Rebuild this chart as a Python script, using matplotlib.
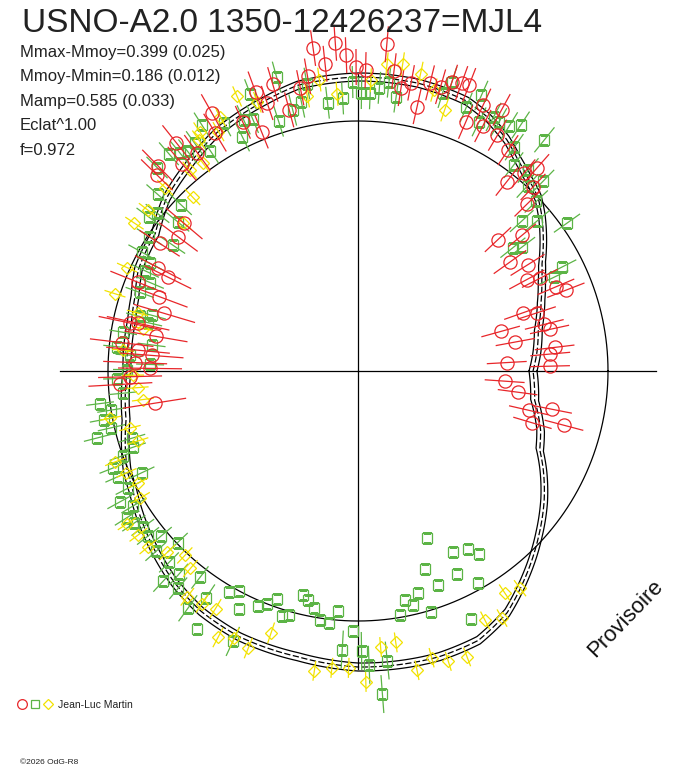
import numpy as np
import matplotlib
matplotlib.use("Agg")
import matplotlib.pyplot as plt
from matplotlib.lines import Line2D
from matplotlib.legend_handler import HandlerTuple

plt.rcParams['font.family'] = ['Liberation Sans', 'DejaVu Sans']

# ---------------- texts ----------------
title = "USNO-A2.0 1350-12426237=MJL4"
stats_lines = ["Mmax-Mmoy=0.399 (0.025)", "Mmoy-Mmin=0.186 (0.012)",
               "Mamp=0.585 (0.033)", "Eclat^1.00", "f=0.972"]
observer = "Jean-Luc Martin"
copyright_text = "\u00a92026 OdG-R8"
stamp = "Provisoire"

# ---------------- polar scale (magnitude offsets, radius grows when brighter) ----------------
center_dm = 1.25     # magnitude offset at the pole
edge_dm = -0.55      # magnitude offset at the outer edge of the polar frame
ref_dm = 0.0         # reference circle
cross_dm = -0.24     # extent of the axis cross
band_dm = 0.02       # half-width of the model envelope

# ---------------- model light curve ----------------
model_phase = [0.0, 0.017, 0.036, 0.058, 0.073, 0.084, 0.098, 0.111, 0.122, 0.135,
               0.147, 0.159, 0.175, 0.189, 0.217, 0.25, 0.283, 0.302, 0.335, 0.361,
               0.383, 0.405, 0.431, 0.449, 0.465, 0.5, 0.533, 0.564, 0.578, 0.608,
               0.636, 0.658, 0.683, 0.717, 0.75, 0.794, 0.817, 0.838, 0.858, 0.883,
               0.903, 0.922, 0.935, 0.95, 0.974, 1.0]
model_dm = [0.375, 0.35, 0.325, 0.27, 0.225, 0.185, 0.115, 0.05, 0.0, -0.035,
            -0.075, -0.125, -0.175, -0.205, -0.22, -0.22, -0.21, -0.18, -0.135, -0.08,
            -0.04, 0.025, 0.04, 0.075, 0.09, 0.095, 0.065, -0.005, -0.025, -0.09,
            -0.15, -0.185, -0.205, -0.21, -0.23, -0.235, -0.225, -0.17, -0.08, 0.03,
            0.115, 0.2, 0.26, 0.29, 0.355, 0.375]

# ---------------- observations: red circles ----------------
red_phase = [0.099, 0.089, 0.079, 0.075, 0.064, 0.059, 0.054, 0.050, 0.043, 0.039,
             0.034, 0.029, 0.019, 0.014, 0.009, 0.004, 0.989, 0.979, 0.964, 0.969,
             0.954, 0.959,
             0.185, 0.180, 0.170, 0.175, 0.165, 0.155, 0.135, 0.139, 0.144, 0.124,
             0.129, 0.120, 0.110,
             0.272, 0.261, 0.256, 0.236, 0.267, 0.251, 0.246, 0.277, 0.296, 0.282,
             0.302, 0.291, 0.231, 0.226, 0.221, 0.215, 0.211, 0.205, 0.200, 0.195,
             0.191, 0.319, 0.311,
             0.306, 0.332, 0.362, 0.357, 0.373, 0.377, 0.351, 0.336, 0.388, 0.398,
             0.409, 0.424, 0.427,
             0.439, 0.443, 0.454, 0.467, 0.466, 0.473, 0.481, 0.485, 0.488, 0.494,
             0.498, 0.504, 0.509, 0.525]
red_dm = [0.315, 0.25, 0.29, 0.23, 0.175, 0.135, 0.375, 0.31, 0.51, 0.29,
          0.27, 0.45, 0.26, 0.285, 0.505, 0.29, 0.515, 0.445, 0.375, 0.26,
          0.34, 0.185,
          -0.105, -0.22, -0.24, -0.125, -0.12, -0.085, -0.105, -0.04, 0.045, 0.06,
          -0.02, 0.29, 0.185,
          -0.38, -0.395, -0.33, -0.39, -0.295, -0.27, -0.255, -0.245, -0.245, -0.195,
          -0.165, -0.1, -0.26, -0.18, -0.215, -0.105, -0.235, -0.23, -0.27, -0.28,
          -0.285, -0.12, -0.04,
          -0.235, -0.23, -0.11, -0.21, -0.185, -0.155, -0.105, -0.14, 0.11, 0.13,
          0.07, 0.125, 0.19,
          0.065, 0.19, 0.24, 0.085, 0.125, 0.225, 0.06, 0.145, 0.215, 0.135,
          0.21, 0.11, 0.06, 0.22]
red_err = [0.10, 0.10, 0.10, 0.10, 0.10, 0.10, 0.10, 0.10, 0.10, 0.10,
           0.10, 0.10, 0.10, 0.10, 0.10, 0.10, 0.10, 0.10, 0.10, 0.10,
           0.10, 0.10,
           0.09, 0.09, 0.09, 0.09, 0.09, 0.09, 0.09, 0.09, 0.09, 0.09,
           0.09, 0.09, 0.09,
           0.09, 0.09, 0.09, 0.09, 0.09, 0.09, 0.09, 0.09, 0.09, 0.09,
           0.09, 0.09, 0.09, 0.09, 0.09, 0.09, 0.09, 0.09, 0.09, 0.09,
           0.09, 0.09, 0.09,
           0.11, 0.11, 0.11, 0.11, 0.11, 0.11, 0.11, 0.11, 0.12, 0.12,
           0.12, 0.13, 0.13,
           0.15, 0.15, 0.16, 0.16, 0.16, 0.16, 0.16, 0.16, 0.16, 0.16,
           0.16, 0.16, 0.16, 0.16]

# ---------------- observations: green squares ----------------
green_phase = [0.183, 0.188, 0.172, 0.168, 0.178, 0.162, 0.157, 0.142, 0.153, 0.147,
               0.138, 0.127, 0.132, 0.121, 0.118, 0.111, 0.098, 0.107, 0.103, 0.075,
               0.071,
               0.293, 0.309, 0.283, 0.268, 0.259, 0.253, 0.248, 0.243, 0.238, 0.233,
               0.228, 0.200, 0.203, 0.299, 0.289, 0.278, 0.318, 0.323,
               0.313, 0.340, 0.329, 0.364, 0.359, 0.355, 0.349, 0.344, 0.374, 0.385,
               0.380, 0.394, 0.399, 0.390, 0.409, 0.405, 0.420, 0.424, 0.430, 0.436,
               0.445,
               0.458, 0.461, 0.464, 0.474, 0.480, 0.484, 0.489, 0.495, 0.499, 0.505,
               0.515, 0.520, 0.525, 0.530, 0.536, 0.540, 0.546, 0.552, 0.555, 0.560,
               0.566, 0.570, 0.575, 0.580, 0.586, 0.590, 0.595, 0.600, 0.611, 0.606,
               0.621, 0.616, 0.626, 0.635, 0.631, 0.646, 0.640,
               0.656, 0.651, 0.681, 0.741, 0.752, 0.756, 0.762, 0.766,
               0.661, 0.666, 0.671, 0.676, 0.686, 0.691, 0.696, 0.702, 0.706, 0.712,
               0.716, 0.721, 0.726, 0.732, 0.737, 0.747, 0.812, 0.827, 0.838, 0.843,
               0.802, 0.822, 0.807, 0.832, 0.792, 0.782, 0.787, 0.777, 0.797, 0.818]
green_dm = [-0.26, -0.175, -0.19, -0.18, -0.135, -0.19, -0.225, -0.235, -0.115, -0.04,
            -0.065, -0.075, -0.005, 0.02, 0.14, 0.08, -0.03, 0.26, 0.22, 0.105,
            0.165,
            -0.275, -0.235, -0.125, -0.1, -0.115, -0.195, -0.14, -0.14, -0.17, -0.205,
            -0.135, -0.27, -0.205, -0.06, -0.095, -0.21, -0.13, -0.055,
            -0.115, -0.205, -0.16, -0.19, -0.16, -0.14, -0.15, -0.075, -0.18, -0.085,
            0.035, -0.025, -0.05, 0.08, 0.01, 0.13, 0.015, 0.08, 0.075, 0.12,
            0.09,
            0.185, 0.125, 0.175, 0.06, 0.21, 0.04, 0.105, 0.21, 0.095, 0.045,
            0.07, -0.05, 0.0, -0.045, -0.015, -0.095, 0.07, 0.06, 0.0, -0.07,
            -0.06, 0.055, -0.04, -0.11, -0.06, -0.12, -0.105, -0.08, -0.035, -0.085,
            0.005, -0.105, -0.095, -0.105, -0.185, -0.05, -0.16,
            -0.115, -0.21, -0.24, -0.145, -0.15, -0.22, -0.37, -0.205,
            -0.27, -0.03, 0.0, -0.08, -0.025, 0.0, 0.04, -0.035, -0.02, 0.095,
            0.08, 0.045, -0.01, -0.02, 0.045, -0.05, 0.345, 0.23, 0.205, 0.155,
            0.205, 0.12, 0.11, 0.03, 0.1, 0.08, 0.05, 0.01, -0.01, -0.11]
green_err = [0.08, 0.08, 0.08, 0.08, 0.08, 0.08, 0.08, 0.08, 0.08, 0.08,
             0.08, 0.08, 0.08, 0.08, 0.08, 0.08, 0.08, 0.08, 0.08, 0.08,
             0.08,
             0.08, 0.08, 0.08, 0.08, 0.08, 0.08, 0.08, 0.08, 0.08, 0.08,
             0.08, 0.08, 0.08, 0.08, 0.08, 0.08, 0.08, 0.08,
             0.075, 0.075, 0.075, 0.075, 0.075, 0.075, 0.075, 0.075, 0.075, 0.075,
             0.075, 0.075, 0.075, 0.075, 0.075, 0.075, 0.075, 0.075, 0.075, 0.075,
             0.075,
             0.07, 0.07, 0.07, 0.07, 0.07, 0.07, 0.07, 0.07, 0.07, 0.07,
             0.07, 0.07, 0.07, 0.07, 0.07, 0.07, 0.07, 0.07, 0.07, 0.07,
             0.07, 0.07, 0.07, 0.07, 0.07, 0.07, 0.07, 0.07, 0.07, 0.07,
             0.07, 0.07, 0.07, 0.07, 0.07, 0.07, 0.07,
             0.08, 0.08, 0.08, 0.095, 0.095, 0.095, 0.095, 0.095,
             0.0, 0.0, 0.0, 0.0, 0.0, 0.0, 0.0, 0.0, 0.0, 0.0,
             0.0, 0.0, 0.0, 0.0, 0.0, 0.0, 0.0, 0.0, 0.0, 0.0,
             0.0, 0.0, 0.0, 0.0, 0.0, 0.0, 0.0, 0.0, 0.0, 0.0]

# ---------------- observations: yellow diamonds ----------------
yellow_phase = [0.316, 0.307, 0.271, 0.262, 0.279, 0.235, 0.227, 0.243, 0.217, 0.208,
                0.199, 0.329, 0.343, 0.334, 0.346, 0.352, 0.361, 0.379, 0.371, 0.396,
                0.407, 0.388, 0.433, 0.451, 0.459, 0.469, 0.486, 0.503, 0.512, 0.521,
                0.530, 0.539, 0.549, 0.557, 0.566, 0.575, 0.584, 0.593, 0.602, 0.611,
                0.621, 0.630, 0.638, 0.647, 0.656, 0.664, 0.673, 0.681, 0.690, 0.699,
                0.727, 0.736, 0.745, 0.754, 0.763, 0.772, 0.781, 0.790, 0.798, 0.808,
                0.825, 0.834, 0.843, 0.852]
yellow_dm = [-0.25, -0.185, -0.22, -0.14, -0.15, -0.29, -0.3, -0.205, -0.27, -0.205,
             -0.125, -0.195, -0.185, -0.135, -0.155, -0.045, -0.06, -0.08, 0.05, -0.075,
             -0.09, 0.105, -0.015, -0.025, 0.11, 0.155, 0.07, 0.125, 0.145, 0.165,
             -0.01, 0.075, 0.095, -0.045, -0.015, 0.015, -0.01, -0.135, -0.12, -0.12,
             -0.065, -0.015, -0.045, -0.165, -0.15, -0.135, -0.255, -0.22, -0.24, -0.13,
             -0.265, -0.24, -0.235, -0.305, -0.135, -0.12, -0.275, -0.23, -0.27, -0.28,
             -0.15, -0.18, -0.08, -0.105]
yellow_err = [0.055, 0.055, 0.06, 0.06, 0.06, 0.06, 0.06, 0.06, 0.06, 0.06,
              0.06, 0.055, 0.055, 0.055, 0.055, 0.055, 0.055, 0.055, 0.055, 0.055,
              0.055, 0.055, 0.055, 0.055, 0.055, 0.055, 0.055, 0.055, 0.055, 0.055,
              0.055, 0.055, 0.055, 0.055, 0.055, 0.055, 0.055, 0.055, 0.055, 0.055,
              0.055, 0.055, 0.055, 0.055, 0.055, 0.055, 0.055, 0.055, 0.055, 0.055,
              0.05, 0.05, 0.05, 0.05, 0.05, 0.05, 0.05, 0.05, 0.05, 0.05,
              0.05, 0.05, 0.05, 0.05]

RED = "#e8262a"
GREEN = "#5cb446"
YELLOW = "#f2e200"
INK = "#222222"

# ---------------- figure ----------------
W, H = 688, 768
fig = plt.figure(figsize=(W / 100, H / 100), dpi=100)
fig.patch.set_facecolor("white")

cx, cy, R = 358, 371, 360   # polar frame centre / radius in pixels (layout)
ax = fig.add_axes([(cx - R) / W, (H - cy - R) / H, 2 * R / W, 2 * R / H],
                  projection="polar")
ax.set_ylim(center_dm, edge_dm)
ax.set_theta_zero_location("E")
ax.set_theta_direction(1)
ax.grid(False)
ax.set_xticks([])
ax.set_yticks([])
ax.spines["polar"].set_visible(False)
ax.patch.set_alpha(0)

two_pi = 2 * np.pi

# axis cross
for ang in (0.0, 0.5 * np.pi, np.pi, 1.5 * np.pi):
    ax.plot([ang, ang], [center_dm, cross_dm], color="black", lw=0.9, zorder=1)

# reference circle
tt = np.linspace(0, two_pi, 721)
ax.plot(tt, np.full_like(tt, ref_dm), color="black", lw=0.9, zorder=1)

# model curve (envelope + mean)
mth = np.asarray(model_phase) * two_pi
mdm = np.asarray(model_dm)
l1, = ax.plot(mth, mdm - band_dm, color="black", lw=0.9, zorder=2)
l2, = ax.plot(mth, mdm, color="black", lw=0.9, ls=(0, (5, 2)), zorder=2)
l3, = ax.plot(mth, mdm + band_dm, color="black", lw=0.9, zorder=2)
for ln in (l1, l2, l3):
    ln.get_path()._interpolation_steps = 24


def draw_series(phase, dm, err, color, marker, ms, z):
    th = np.asarray(phase) * two_pi
    d = np.asarray(dm)
    e = np.asarray(err)
    has = e > 0
    ax.vlines(th[has], (d - e)[has], (d + e)[has], colors=color, lw=0.9, zorder=z)
    ax.plot(th, d, ls="none", marker=marker, ms=ms, mfc="none", mec=color,
            mew=0.9, zorder=z + 0.5)


draw_series(green_phase, green_dm, green_err, GREEN, "s", 7.0, 3)
draw_series(yellow_phase, yellow_dm, yellow_err, YELLOW, "D", 6.5, 4)
draw_series(red_phase, red_dm, red_err, RED, "o", 9.5, 5)

# ---------------- texts ----------------
fig.text(22 / W, 1 - 32 / H, title, fontsize=24, color=INK, va="baseline", ha="left")
for i, s in enumerate(stats_lines):
    fig.text(20 / W, 1 - (57 + 24.5 * i) / H, s, fontsize=12, color=INK,
             va="baseline", ha="left")

fig.text(625 / W, 1 - 619 / H, stamp, fontsize=16, rotation=46, color="#111111",
         ha="center", va="center")

fig.text(20 / W, 1 - 764 / H, copyright_text, fontsize=6, color=INK,
         va="baseline", ha="left")

h1 = Line2D([], [], ls="none", marker="o", ms=7, mfc="none", mec=RED, mew=0.9)
h2 = Line2D([], [], ls="none", marker="s", ms=5.5, mfc="none", mec=GREEN, mew=0.9)
h3 = Line2D([], [], ls="none", marker="D", ms=5, mfc="none", mec=YELLOW, mew=0.9)
fig.legend(handles=[(h1, h2, h3)], labels=[observer],
           handler_map={tuple: HandlerTuple(ndivide=None, pad=0.0)},
           loc="center left", bbox_to_anchor=(15 / W, 1 - 705 / H),
           frameon=False, fontsize=7.5, handlelength=3.75, handletextpad=0.4,
           borderpad=0, borderaxespad=0, labelcolor=INK)

fig.savefig("out.png", dpi=100, facecolor="white")
